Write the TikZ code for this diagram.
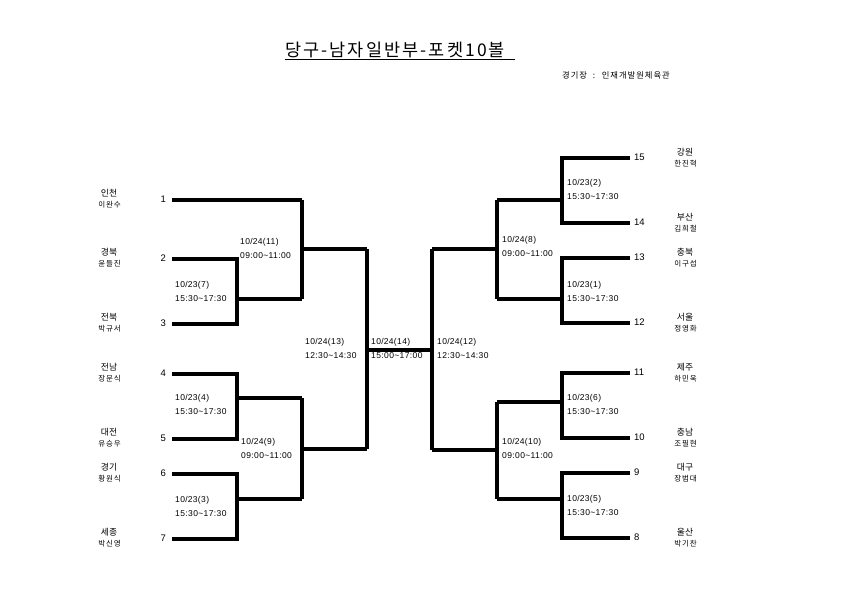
\documentclass[tikz,border=0pt]{standalone}
\usepackage{fontspec}
\setmainfont{Liberation Sans}
\newfontfamily\kr{Noto Sans CJK KR}
\newfontfamily\krsp[LetterSpace=12]{Noto Sans CJK KR}
\newfontfamily\numsp[LetterSpace=4.5]{Liberation Sans}
\newcommand{\tl}{\textasciitilde}
\begin{document}
\begin{tikzpicture}[x=1pt,y=-1pt,
  br/.style={line width=3.6pt, line join=miter},
  seedL/.style={anchor=east, inner sep=0pt, font=\fontsize{9.5}{10}\selectfont},
  seedR/.style={anchor=west, inner sep=0pt, font=\fontsize{9.5}{10}\selectfont},
  reg/.style={inner sep=0pt, font=\kr\fontsize{8.8}{9}\selectfont},
  pname/.style={inner sep=0pt, font=\krsp\fontsize{7.5}{8}\selectfont},
  mlab/.style={anchor=west, inner sep=0pt, font=\numsp\fontsize{8.5}{9}\selectfont}]
\useasboundingbox (0,0) rectangle (842,595);

% title
\node[inner sep=0pt, anchor=base west, font=\krsp\fontsize{17.5}{18}\selectfont] (title) at (285,56) {당구-남자일반부-포켓10볼};
\coordinate (ulA) at (285,59.5);
\coordinate (ulB) at (515,59.5);
\draw[line width=0.9pt] (ulA) -- (ulB);
\node[inner sep=0pt, anchor=west, font=\krsp\fontsize{8.3}{9}\selectfont] (venue) at (562,75) {경기장 \ : \ 인재개발원체육관};

% ---------- left side seeds ----------
\foreach \n/\y/\r/\p in {1/200/인천/이완수, 2/259/경북/윤들진, 3/324/전북/박규서, 4/374/전남/장문식, 5/439/대전/유승우, 6/474/경기/황원식, 7/539/세종/박신영}{
  \node[seedL] (n\n) at (166,\y-1) {\n};
  \coordinate (L\n) at (172,\y);
  \node[reg] (r\n) at (109,\y-6.5) {\r};
  \node[pname] (p\n) at (109.5,\y+4.5) {\p};
}
% ---------- right side seeds ----------
\foreach \n/\y/\r/\p in {15/158/강원/한진혁, 14/223/부산/김희철, 13/258/충북/이구섭, 12/323/서울/정영화, 11/373/제주/하민욱, 10/438/충남/조필현, 9/473/대구/장범대, 8/538/울산/박기찬}{
  \node[seedR] (n\n) at (634,\y-1) {\n};
  \coordinate (R\n) at (630,\y);
  \node[reg] (r\n) at (685,\y-5.5) {\r};
  \node[pname] (p\n) at (685.5,\y+5.5) {\p};
}

% ---------- left bracket ----------
\coordinate (m7a) at (237,259); \coordinate (m7b) at (237,324); \coordinate (m7o) at (237,299);
\coordinate (m11a) at (302,200); \coordinate (m11b) at (302,299); \coordinate (m11o) at (302,249);
\coordinate (m4a) at (237,374); \coordinate (m4b) at (237,439); \coordinate (m4o) at (237,398);
\coordinate (m3a) at (237,474); \coordinate (m3b) at (237,539); \coordinate (m3o) at (237,499);
\coordinate (m9a) at (302,398); \coordinate (m9b) at (302,499); \coordinate (m9o) at (302,449);
\coordinate (m13a) at (367,249); \coordinate (m13b) at (367,449); \coordinate (m13o) at (367,350);

\draw[br] (L1) -- (m11a);
\draw[br] (L2) -- (m7a) -- (m7b) -- (L3);
\draw[br] (m7o) -- (m11b);
\draw[br] (m11a) -- (m11b);
\draw[br] (m11o) -- (m13a);
\draw[br] (L4) -- (m4a) -- (m4b) -- (L5);
\draw[br] (m4o) -- (m9a);
\draw[br] (L6) -- (m3a) -- (m3b) -- (L7);
\draw[br] (m3o) -- (m9b);
\draw[br] (m9a) -- (m9b);
\draw[br] (m9o) -- (m13b);
\draw[br] (m13a) -- (m13b);

% ---------- right bracket ----------
\coordinate (m2a) at (562,158); \coordinate (m2b) at (562,223); \coordinate (m2o) at (562,200);
\coordinate (m1a) at (562,258); \coordinate (m1b) at (562,323); \coordinate (m1o) at (562,299);
\coordinate (m8a) at (497,200); \coordinate (m8b) at (497,299); \coordinate (m8o) at (497,249);
\coordinate (m6a) at (562,373); \coordinate (m6b) at (562,438); \coordinate (m6o) at (562,402);
\coordinate (m5a) at (562,473); \coordinate (m5b) at (562,538); \coordinate (m5o) at (562,499);
\coordinate (m10a) at (497,402); \coordinate (m10b) at (497,499); \coordinate (m10o) at (497,450);
\coordinate (m12a) at (432,249); \coordinate (m12b) at (432,450); \coordinate (m12o) at (432,350);

\draw[br] (R15) -- (m2a) -- (m2b) -- (R14);
\draw[br] (m2o) -- (m8a);
\draw[br] (R13) -- (m1a) -- (m1b) -- (R12);
\draw[br] (m1o) -- (m8b);
\draw[br] (m8a) -- (m8b);
\draw[br] (m8o) -- (m12a);
\draw[br] (R11) -- (m6a) -- (m6b) -- (R10);
\draw[br] (m6o) -- (m10a);
\draw[br] (R9) -- (m5a) -- (m5b) -- (R8);
\draw[br] (m5o) -- (m10b);
\draw[br] (m10a) -- (m10b);
\draw[br] (m10o) -- (m12b);
\draw[br] (m12a) -- (m12b);

% final
\draw[br] (m13o) -- (m12o);

% ---------- match labels ----------
\foreach \nm/\x/\y/\d/\t in {
  l7/175/285/10\slash 23(7)/15:30\tl 17:30,
  l11/240/242/10\slash 24(11)/09:00\tl 11:00,
  l4/175/398/10\slash 23(4)/15:30\tl 17:30,
  l9/241/442/10\slash 24(9)/09:00\tl 11:00,
  l3/175/500/10\slash 23(3)/15:30\tl 17:30,
  l13/305/342/10\slash 24(13)/12:30\tl 14:30,
  l14/371/342/10\slash 24(14)/15:00\tl 17:00,
  l12/437/342/10\slash 24(12)/12:30\tl 14:30,
  l2/567/183/10\slash 23(2)/15:30\tl 17:30,
  l8/502/240/10\slash 24(8)/09:00\tl 11:00,
  l1/567/285/10\slash 23(1)/15:30\tl 17:30,
  l6/567/398/10\slash 23(6)/15:30\tl 17:30,
  l10/502/442/10\slash 24(10)/09:00\tl 11:00,
  l5/567/499/10\slash 23(5)/15:30\tl 17:30}{
  \node[mlab] (\nm d) at (\x,\y) {\d};
  \node[mlab] (\nm t) at (\x,\y+13.5) {\t};
}
\end{tikzpicture}
\end{document}
